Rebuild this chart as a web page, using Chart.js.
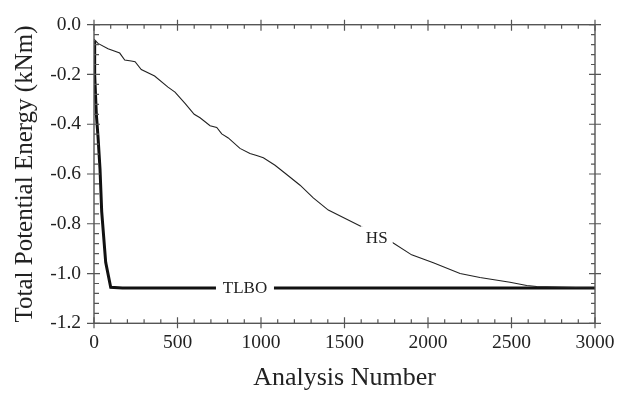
<!DOCTYPE html>
<html>
<head>
<meta charset="utf-8">
<script src="https://cdn.jsdelivr.net/npm/chart.js@4.4.0/dist/chart.umd.min.js"></script>
<style>
  body { margin: 0; background: #fff; }
</style>
</head>
<body>
<canvas id="energyChart" width="628" height="394"></canvas>
<script>
  // HS run: analysis number vs total potential energy
  var hsX = [0, 24, 84, 154, 184, 223, 246, 283, 363, 443, 485, 545, 600, 635, 695, 735, 765, 804, 874, 934, 974, 1014, 1084, 1150, 1234, 1313, 1403, 1603, 1792, 1902, 2032, 2192, 2311, 2491, 2591, 2651, 3000];
  var hsY = [-0.058, -0.075, -0.097, -0.114, -0.142, -0.146, -0.149, -0.18, -0.206, -0.251, -0.271, -0.316, -0.36, -0.374, -0.406, -0.413, -0.439, -0.455, -0.497, -0.518, -0.526, -0.535, -0.565, -0.60, -0.645, -0.696, -0.745, -0.812, -0.877, -0.925, -0.957, -1.0, -1.016, -1.035, -1.048, -1.052, -1.058];

  // TLBO run
  var tlboX = [0, 4, 14, 24, 36, 46, 70, 100, 170, 3000];
  var tlboY = [-0.065, -0.2, -0.36, -0.45, -0.58, -0.75, -0.955, -1.055, -1.058, -1.058];

  var xTicks = [0, 500, 1000, 1500, 2000, 2500, 3000];
  var yTicks = [-1.2, -1.0, -0.8, -0.6, -0.4, -0.2, 0.0];

  function toPoints(xs, ys) {
    return xs.map(function (x, i) { return { x: x, y: ys[i] }; });
  }

  var serif = 'Liberation Serif, Times New Roman, serif';

  // frame with ticks on all four sides, plus the in-line series labels
  var framePlugin = {
    id: 'frame',
    afterDatasetsDraw: function (chart) {
      var c = chart.ctx, a = chart.chartArea;
      var sx = chart.scales.x, sy = chart.scales.y;
      c.save();
      c.strokeStyle = '#555';
      c.lineWidth = 1.4;
      c.strokeRect(a.left, a.top, a.right - a.left, a.bottom - a.top);
      c.lineWidth = 1.2;
      c.beginPath();
      for (var v = 0; v <= 3000; v += 100) {
        var px = sx.getPixelForValue(v);
        var major = v % 500 === 0;
        c.moveTo(px, a.bottom + (major ? 5 : 0)); c.lineTo(px, a.bottom - (major ? 6 : 4));
        c.moveTo(px, a.top - (major ? 5 : 0)); c.lineTo(px, a.top + (major ? 6 : 4));
      }
      for (var k = 0; k <= 30; k++) {
        var py = sy.getPixelForValue(-1.2 + k * 0.04);
        var maj = k % 5 === 0;
        c.moveTo(a.left - (maj ? 7 : 0), py); c.lineTo(a.left + (maj ? 6 : 5), py);
        c.moveTo(a.right + (maj ? 6 : 0), py); c.lineTo(a.right - (maj ? 6 : 4), py);
      }
      c.stroke();

      c.font = '17px ' + serif;
      c.textAlign = 'center';
      c.textBaseline = 'middle';
      [['TLBO', 904, -1.058, 58], ['HS', 1693, -0.854, 32]].forEach(function (l) {
        var x = sx.getPixelForValue(l[1]), y = sy.getPixelForValue(l[2]);
        c.fillStyle = '#fff';
        c.fillRect(x - l[3] / 2, y - 11, l[3], 22);
        c.fillStyle = '#222';
        c.fillText(l[0], x, y + 1);
      });
      c.restore();
    }
  };

  var ctx = document.getElementById('energyChart').getContext('2d');
  var energyChart = new Chart(ctx, {
    type: 'line',
    data: {
      datasets: [{
        label: 'HS',
        data: toPoints(hsX, hsY),
        borderColor: '#222',
        borderWidth: 1.1,
        pointRadius: 0,
        tension: 0
      }, {
        label: 'TLBO',
        data: toPoints(tlboX, tlboY),
        borderColor: '#111',
        borderWidth: 3,
        pointRadius: 0,
        tension: 0
      }]
    },
    options: {
      responsive: false,
      animation: false,
      layout: { padding: { top: 13, right: 33, left: 0, bottom: 0 } },
      plugins: { legend: { display: false }, tooltip: { enabled: false } },
      scales: {
        x: {
          type: 'linear',
          min: 0, max: 3000,
          afterBuildTicks: function (s) { s.ticks = xTicks.map(function (v) { return { value: v }; }); },
          afterFit: function (s) { s.height = 70.7; },
          grid: { display: false, drawTicks: false },
          border: { display: false },
          ticks: {
            padding: 8, color: '#222', font: { family: serif, size: 19.5 },
            callback: function (v) { return String(v); }
          },
          title: { display: true, text: 'Analysis Number', color: '#222', padding: { top: 0, bottom: 0 }, font: { family: serif, size: 26 } }
        },
        y: {
          type: 'linear',
          min: -1.2, max: 0,
          afterBuildTicks: function (s) { s.ticks = yTicks.map(function (v) { return { value: v }; }); },
          afterFit: function (s) { s.width = 94; },
          grid: { display: false, drawTicks: false },
          border: { display: false },
          ticks: {
            padding: 13, color: '#222', font: { family: serif, size: 19.5 },
            callback: function (v) { return Math.abs(v) < 1e-9 ? '0.0' : v.toFixed(1); }
          },
          title: { display: true, text: 'Total Potential Energy (kNm)', color: '#222', padding: { top: 10, bottom: 0 }, font: { family: serif, size: 25 } }
        }
      }
    },
    plugins: [framePlugin]
  });
</script>
</body>
</html>
